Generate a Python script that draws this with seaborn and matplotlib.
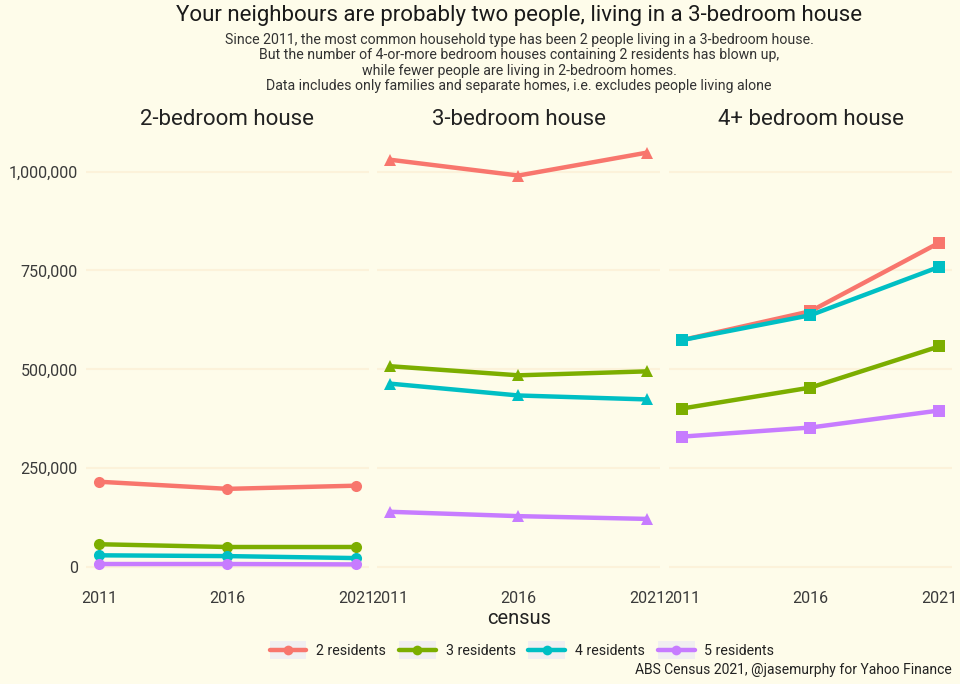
import matplotlib
matplotlib.use("Agg")
import matplotlib.pyplot as plt
import seaborn as sns
import pandas as pd
from matplotlib.lines import Line2D
from matplotlib.patches import Rectangle
from matplotlib.legend_handler import HandlerLine2D
from matplotlib.ticker import FuncFormatter

# ---------------- data ----------------
census = [2011, 2016, 2021]
panels = ["2-bedroom house", "3-bedroom house", "4+ bedroom house"]
residents = ["2 residents", "3 residents", "4 residents", "5 residents"]

bed2_r2 = [216000, 198000, 206000]
bed2_r3 = [58000, 51000, 51000]
bed2_r4 = [30000, 28000, 23000]
bed2_r5 = [8000, 8000, 7000]

bed3_r2 = [1030000, 990000, 1048000]
bed3_r3 = [508000, 485000, 495000]
bed3_r4 = [464000, 434000, 424000]
bed3_r5 = [140000, 129000, 122000]

bed4_r2 = [574000, 647000, 820000]
bed4_r3 = [401000, 454000, 558000]
bed4_r4 = [574000, 637000, 759000]
bed4_r5 = [330000, 353000, 396000]

yticks = [0, 250000, 500000, 750000, 1000000]

series = {
    panels[0]: [bed2_r2, bed2_r3, bed2_r4, bed2_r5],
    panels[1]: [bed3_r2, bed3_r3, bed3_r4, bed3_r5],
    panels[2]: [bed4_r2, bed4_r3, bed4_r4, bed4_r5],
}
rows = []
for p, lists in series.items():
    for r, vals in zip(residents, lists):
        for c, v in zip(census, vals):
            rows.append({"panel": p, "residents": r, "census": c, "households": v})
df = pd.DataFrame(rows)

# ---------------- style ----------------
BG = "#FEFCEA"
GRID = "#FCF2DA"
colors = ["#F8766D", "#7CAE00", "#00BFC4", "#C77CFF"]
palette = dict(zip(residents, colors))
markers = ["o", "^", "s"]

sns.set_theme(style="white")
plt.rcParams["font.family"] = ["Roboto", "DejaVu Sans"]

fig = plt.figure(figsize=(9.6, 6.84), dpi=100, facecolor=BG)
W, H = 960, 684
left_px = [86, 377, 669]
pw = 283
top_px, bot_px = 132, 585

ymin_d, ymax_d = df.households.min(), df.households.max()
yr = ymax_d - ymin_d
ylim = (ymin_d - 0.05 * yr, ymax_d + 0.05 * yr)
xlim = (min(census) - 0.05 * (max(census) - min(census)),
        max(census) + 0.05 * (max(census) - min(census)))

axes = []
for i, p in enumerate(panels):
    ax = fig.add_axes([left_px[i] / W, 1 - bot_px / H, pw / W, (bot_px - top_px) / H])
    ax.set_facecolor(BG)
    sub = df[df.panel == p]
    sns.lineplot(data=sub, x="census", y="households", hue="residents",
                 hue_order=residents, palette=palette, marker=markers[i],
                 markersize=8, markeredgewidth=0, linewidth=3.2, ax=ax, legend=False)
    ax.set_xlim(*xlim)
    ax.set_ylim(*ylim)
    ax.set_xticks(census)
    ax.set_xticklabels([str(c) for c in census], fontsize=11.5, color="#3a3a3a")
    ax.set_yticks(yticks)
    if i == 0:
        ax.yaxis.set_major_formatter(FuncFormatter(lambda v, _: f"{int(v):,}"))
        ax.tick_params(axis="y", labelsize=11.5, labelcolor="#3a3a3a", pad=6)
    else:
        ax.set_yticklabels([])
    ax.tick_params(length=0)
    ax.tick_params(axis="x", pad=4)
    ax.grid(axis="y", color=GRID, linewidth=1.5)
    ax.set_axisbelow(True)
    for s in ax.spines.values():
        s.set_visible(False)
    ax.set_xlabel("")
    ax.set_ylabel("")
    ax.set_title(p, fontsize=16, color="#222222", pad=5)
    axes.append(ax)

cx = (left_px[0] + left_px[2] + pw) / 2 / W
fig.text(cx, 1 - 15 / H, "Your neighbours are probably two people, living in a 3-bedroom house",
         ha="center", va="center", fontsize=16, color="#1a1a1a")
subtitle = ("Since 2011, the most common household type has been 2 people living in a 3-bedroom house.\n"
            "But the number of 4-or-more bedroom houses containing 2 residents has blown up,\n"
            "while fewer people are living in 2-bedroom homes.\n"
            "Data includes only families and separate homes, i.e. excludes people living alone")
fig.text(cx, 1 - 63 / H, subtitle, ha="center", va="center", fontsize=10.2,
         color="#333333", linespacing=1.12)
fig.text(cx, 1 - 618 / H, "census", ha="center", va="center", fontsize=14.5, color="#222222")
fig.text(952 / W, 1 - 670 / H, "ABS Census 2021, @jasemurphy for Yahoo Finance",
         ha="right", va="center", fontsize=10, color="#222222")


class BoxHandler(HandlerLine2D):
    def create_artists(self, legend, orig_handle, xdescent, ydescent, width, height, fontsize, trans):
        arts = super().create_artists(legend, orig_handle, xdescent, ydescent, width, height, fontsize, trans)
        r = Rectangle((-xdescent, -ydescent - 3), width, height + 6, facecolor="#F1EFF1",
                      edgecolor="none", transform=trans)
        return [r] + list(arts)


handles = [Line2D([0], [0], color=c, lw=3.2, marker="o", markersize=7, markeredgewidth=0)
           for c in colors]
leg = fig.legend(handles, residents, loc="center", bbox_to_anchor=(522 / W, 1 - 651 / H),
                 ncol=4, frameon=False, fontsize=10.2, handlelength=2.6, handletextpad=0.7,
                 columnspacing=0.9, handler_map={Line2D: BoxHandler(numpoints=1)})
for t in leg.get_texts():
    t.set_color("#222222")

fig.savefig("out.png", dpi=100, facecolor=BG)
